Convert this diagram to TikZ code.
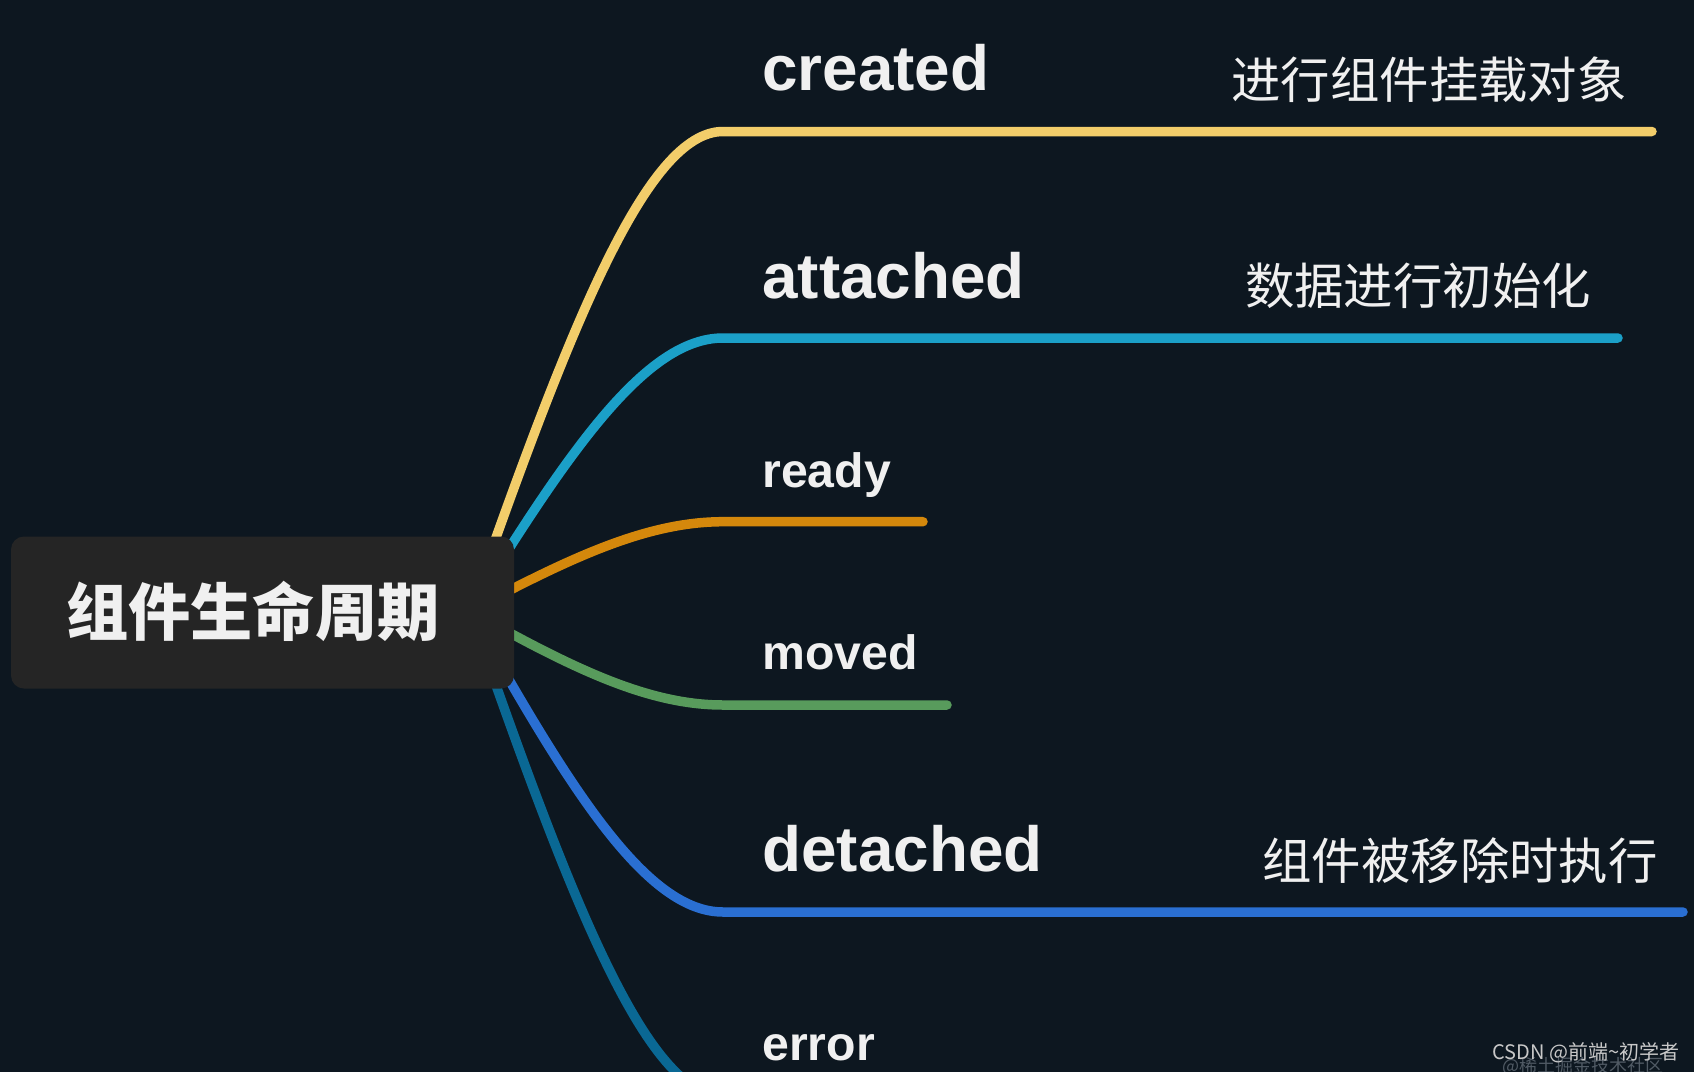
\documentclass[tikz,border=0pt]{standalone}
\usepackage{fontspec}
\setmainfont{Liberation Sans}
\newfontfamily\cjk{Noto Sans CJK SC}
\definecolor{bgc}{RGB}{13,23,32}
\definecolor{boxc}{RGB}{37,37,37}
\definecolor{txtc}{RGB}{240,240,240}
\definecolor{cyel}{RGB}{242,205,106}
\definecolor{ccya}{RGB}{27,160,200}
\definecolor{cora}{RGB}{212,136,12}
\definecolor{cgre}{RGB}{88,155,92}
\definecolor{cblu}{RGB}{42,111,210}
\definecolor{ctea}{RGB}{10,104,148}
\definecolor{wm1}{RGB}{200,200,200}
\definecolor{wm2}{RGB}{80,90,100}
\tikzset{
  branch/.style={line width=4.75pt, line cap=round},
  rootbox/.style={fill=boxc, rounded corners=6.5pt, minimum width=251.5pt, minimum height=76pt, inner sep=0pt},
  roottxt/.style={text=txtc, inner sep=0pt, font=\cjk\bfseries\fontsize{31.1}{36}\selectfont},
  biglbl/.style={text=txtc, inner sep=0pt, anchor=base west, font=\bfseries\fontsize{31.9}{36}\selectfont},
  smalllbl/.style={text=txtc, inner sep=0pt, anchor=base west, font=\bfseries\fontsize{24.1}{28}\selectfont},
  note/.style={text=txtc, inner sep=0pt, font=\cjk\fontsize{24.7}{30}\selectfont},
}
\begin{document}
\begin{tikzpicture}[x=0.5pt, y=-0.5pt]
\useasboundingbox (0,0) rectangle (1694,1072);
\fill[bgc] (0,0) rectangle (1694,1072);
\clip (0,0) rectangle (1694,1072);
% branch coordinates
\coordinate (hub) at (470,611);
\coordinate (s1) at (723,131.5);  \coordinate (e1) at (1652,131.5);
\coordinate (s2) at (723,338);    \coordinate (e2) at (1618,338);
\coordinate (s3) at (723,521.7);  \coordinate (e3) at (923,521.7);
\coordinate (s4) at (723,705);    \coordinate (e4) at (947,705);
\coordinate (s5) at (723,912);    \coordinate (e5) at (1683,912);
\coordinate (s6) at (723,1096);   \coordinate (e6) at (1200,1096);
% connectors
\draw[branch, cyel] (hub) .. controls (571,323.3) and (647,131.5) .. (s1) -- (e1);
\draw[branch, ccya] (hub) .. controls (571,447.2) and (647,338) .. (s2) -- (e2);
\draw[branch, cora] (hub) .. controls (571,557.4) and (647,521.7) .. (s3) -- (e3);
\draw[branch, cgre] (hub) .. controls (571,667.4) and (647,705) .. (s4) -- (e4);
\draw[branch, cblu] (hub) .. controls (571,791.6) and (647,912) .. (s5) -- (e5);
\draw[branch, ctea] (hub) .. controls (571,902) and (647,1096) .. (s6) -- (e6);
% root
\node[rootbox] (root) at (262.5,612.5) {};
\node[roottxt] (roottext) at (253,611) {组件生命周期};
% labels
\node[biglbl] (created) at (762,90) {created};
\node[biglbl] (attached) at (762,298) {attached};
\node[smalllbl] (ready) at (762,487) {ready};
\node[smalllbl] (moved) at (762,669) {moved};
\node[biglbl] (detached) at (762,871) {detached};
\node[smalllbl] (error) at (762,1060) {error};
% notes
\node[note] (n1) at (1429,80) {进行组件挂载对象};
\node[note] (n2) at (1418,285.5) {数据进行初始化};
\node[note] (n5) at (1460,860.5) {组件被移除时执行};
% watermark
\node[text=wm2, inner sep=0pt, font=\cjk\fontsize{9}{10}\selectfont] (wmb) at (1583,1066) {@稀土掘金技术社区};
\node[text=wm1, inner sep=0pt, font=\cjk\fontsize{10}{11}\selectfont] (wma) at (1586,1053) {CSDN @前端\textasciitilde 初学者};
\end{tikzpicture}
\end{document}
